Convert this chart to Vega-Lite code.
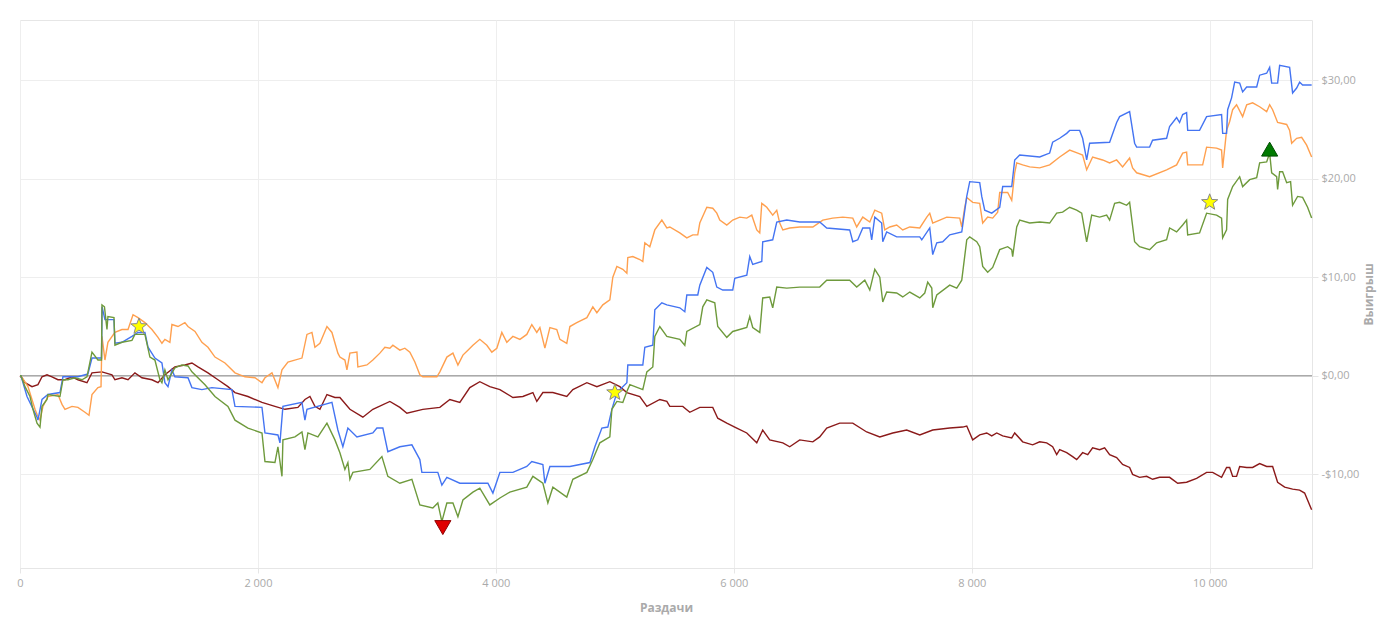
{
  "$schema": "https://vega.github.io/schema/vega-lite/v6.json",
  "width": 1292,
  "height": 548,
  "padding": {"left": 16, "top": 20, "right": 8, "bottom": 8},
  "autosize": {"type": "pad"},
  "config": {
    "locale": {
      "number": {"decimal": ",", "thousands": " ", "grouping": [3], "currency": ["$", ""], "minus": "-"}
    },
    "font": "Open Sans",
    "view": {"stroke": "#e6e6e6"},
    "axis": {
      "gridColor": "#eeeeee",
      "domainColor": "#e6e6e6",
      "tickColor": "#e6e6e6",
      "labelColor": "#aaaaaa",
      "labelFont": "Open Sans",
      "labelFontSize": 11,
      "titleColor": "#aaaaaa",
      "titleFont": "Open Sans",
      "titleFontSize": 12,
      "titleFontWeight": "bold"
    }
  },
  "datasets": {
    "blue": [
      {"hand": 0, "won": 0}, {"hand": 8, "won": 0}, {"hand": 59, "won": -2.1}, {"hand": 143, "won": -4.2}, {"hand": 151, "won": -4.5},
      {"hand": 185, "won": -2.4}, {"hand": 235, "won": -1.9}, {"hand": 336, "won": -1.7}, {"hand": 361, "won": -0.1}, {"hand": 487, "won": -0.1},
      {"hand": 571, "won": 0.2}, {"hand": 605, "won": 1.8}, {"hand": 685, "won": 1.8}, {"hand": 690, "won": 7.0}, {"hand": 714, "won": 5.7},
      {"hand": 790, "won": 5.7}, {"hand": 798, "won": 3.3}, {"hand": 857, "won": 3.4}, {"hand": 941, "won": 4.0}, {"hand": 992, "won": 4.4},
      {"hand": 1050, "won": 4.4}, {"hand": 1076, "won": 2.9}, {"hand": 1134, "won": 1.8}, {"hand": 1193, "won": 1.3}, {"hand": 1218, "won": -0.7},
      {"hand": 1244, "won": -1.1}, {"hand": 1277, "won": 0.6}, {"hand": 1302, "won": -0.1}, {"hand": 1412, "won": -0.2}, {"hand": 1445, "won": -1.2},
      {"hand": 1529, "won": -1.4}, {"hand": 1613, "won": -1.2}, {"hand": 1781, "won": -1.4}, {"hand": 1807, "won": -3.1}, {"hand": 2034, "won": -3.2},
      {"hand": 2059, "won": -5.8}, {"hand": 2168, "won": -6.0}, {"hand": 2185, "won": -6.8}, {"hand": 2210, "won": -3.1}, {"hand": 2370, "won": -2.7},
      {"hand": 2395, "won": -4.5}, {"hand": 2412, "won": -3.4}, {"hand": 2622, "won": -2.7}, {"hand": 2672, "won": -5.5}, {"hand": 2714, "won": -7.2},
      {"hand": 2756, "won": -5.3}, {"hand": 2832, "won": -6.2}, {"hand": 2966, "won": -5.8}, {"hand": 3000, "won": -5.3}, {"hand": 3050, "won": -5.3},
      {"hand": 3092, "won": -7.7}, {"hand": 3193, "won": -7.2}, {"hand": 3294, "won": -7.0}, {"hand": 3361, "won": -8.5}, {"hand": 3378, "won": -9.8},
      {"hand": 3512, "won": -9.8}, {"hand": 3546, "won": -11.1}, {"hand": 3588, "won": -10.3}, {"hand": 3697, "won": -10.9}, {"hand": 3933, "won": -10.9},
      {"hand": 3975, "won": -11.9}, {"hand": 4034, "won": -9.8}, {"hand": 4143, "won": -9.8}, {"hand": 4260, "won": -9.2}, {"hand": 4302, "won": -8.7},
      {"hand": 4395, "won": -9.0}, {"hand": 4412, "won": -10.9}, {"hand": 4454, "won": -9.2}, {"hand": 4622, "won": -9.2}, {"hand": 4790, "won": -8.8},
      {"hand": 4832, "won": -7.2}, {"hand": 4891, "won": -5.3}, {"hand": 4941, "won": -5.2}, {"hand": 4975, "won": -3.4}, {"hand": 5017, "won": -1.7},
      {"hand": 5101, "won": -0.7}, {"hand": 5109, "won": 1.1}, {"hand": 5235, "won": 1.1}, {"hand": 5252, "won": 2.9}, {"hand": 5319, "won": 3.1},
      {"hand": 5336, "won": 6.7}, {"hand": 5395, "won": 7.4}, {"hand": 5437, "won": 7.2}, {"hand": 5546, "won": 6.9}, {"hand": 5588, "won": 6.5},
      {"hand": 5605, "won": 8.2}, {"hand": 5697, "won": 8.2}, {"hand": 5714, "won": 9.2}, {"hand": 5773, "won": 11.0}, {"hand": 5823, "won": 10.5},
      {"hand": 5857, "won": 9.0}, {"hand": 5907, "won": 8.7}, {"hand": 5991, "won": 8.7}, {"hand": 6008, "won": 9.9}, {"hand": 6109, "won": 10.2},
      {"hand": 6134, "won": 12.1}, {"hand": 6159, "won": 11.3}, {"hand": 6235, "won": 11.6}, {"hand": 6243, "won": 13.6}, {"hand": 6327, "won": 13.8},
      {"hand": 6361, "won": 15.6}, {"hand": 6445, "won": 15.8}, {"hand": 6554, "won": 15.6}, {"hand": 6722, "won": 15.6}, {"hand": 6781, "won": 15.0},
      {"hand": 6974, "won": 14.8}, {"hand": 7000, "won": 13.6}, {"hand": 7042, "won": 13.8}, {"hand": 7084, "won": 15.0}, {"hand": 7143, "won": 15.0},
      {"hand": 7159, "won": 13.8}, {"hand": 7185, "won": 16.1}, {"hand": 7243, "won": 15.5}, {"hand": 7252, "won": 13.6}, {"hand": 7285, "won": 14.6},
      {"hand": 7369, "won": 14.1}, {"hand": 7563, "won": 14.1}, {"hand": 7580, "won": 13.8}, {"hand": 7647, "won": 15.0}, {"hand": 7672, "won": 12.3},
      {"hand": 7706, "won": 13.5}, {"hand": 7756, "won": 13.6}, {"hand": 7815, "won": 14.3}, {"hand": 7916, "won": 14.6}, {"hand": 7958, "won": 18.2},
      {"hand": 7983, "won": 19.7}, {"hand": 8067, "won": 19.6}, {"hand": 8084, "won": 18.2}, {"hand": 8109, "won": 16.8}, {"hand": 8168, "won": 16.5},
      {"hand": 8235, "won": 17.1}, {"hand": 8260, "won": 19.2}, {"hand": 8336, "won": 19.2}, {"hand": 8361, "won": 21.9}, {"hand": 8403, "won": 22.4},
      {"hand": 8571, "won": 22.2}, {"hand": 8655, "won": 22.6}, {"hand": 8680, "won": 23.7}, {"hand": 8739, "won": 24.1}, {"hand": 8798, "won": 24.6},
      {"hand": 8823, "won": 24.9}, {"hand": 8907, "won": 24.9}, {"hand": 8932, "won": 24.1}, {"hand": 8966, "won": 21.9}, {"hand": 8991, "won": 23.6},
      {"hand": 9159, "won": 23.7}, {"hand": 9218, "won": 25.7}, {"hand": 9243, "won": 26.3}, {"hand": 9327, "won": 26.8}, {"hand": 9369, "won": 23.6},
      {"hand": 9386, "won": 23.2}, {"hand": 9495, "won": 23.2}, {"hand": 9520, "won": 23.9}, {"hand": 9638, "won": 24.1}, {"hand": 9663, "won": 25.3},
      {"hand": 9722, "won": 26.2}, {"hand": 9747, "won": 25.7}, {"hand": 9773, "won": 26.5}, {"hand": 9806, "won": 26.7}, {"hand": 9815, "won": 24.9},
      {"hand": 9915, "won": 24.9}, {"hand": 9974, "won": 26.3}, {"hand": 10100, "won": 26.5}, {"hand": 10109, "won": 24.6}, {"hand": 10142, "won": 24.6},
      {"hand": 10151, "won": 27.0}, {"hand": 10184, "won": 28.2}, {"hand": 10210, "won": 29.8}, {"hand": 10252, "won": 29.7}, {"hand": 10277, "won": 28.8},
      {"hand": 10311, "won": 29.3}, {"hand": 10395, "won": 29.3}, {"hand": 10420, "won": 30.5}, {"hand": 10479, "won": 30.7}, {"hand": 10504, "won": 31.3},
      {"hand": 10521, "won": 29.7}, {"hand": 10571, "won": 29.7}, {"hand": 10588, "won": 31.5}, {"hand": 10672, "won": 31.3}, {"hand": 10697, "won": 28.7},
      {"hand": 10731, "won": 29.2}, {"hand": 10756, "won": 29.8}, {"hand": 10781, "won": 29.5}, {"hand": 10857, "won": 29.5}
    ],
    "orange": [
      {"hand": 0, "won": 0}, {"hand": 8, "won": 0}, {"hand": 67, "won": -1.1}, {"hand": 126, "won": -3.4}, {"hand": 143, "won": -3.9},
      {"hand": 168, "won": -4.5}, {"hand": 193, "won": -3.1}, {"hand": 235, "won": -2.1}, {"hand": 319, "won": -1.9}, {"hand": 353, "won": -2.9},
      {"hand": 378, "won": -3.4}, {"hand": 437, "won": -3.1}, {"hand": 487, "won": -3.2}, {"hand": 546, "won": -3.7}, {"hand": 580, "won": -4.0},
      {"hand": 605, "won": -1.9}, {"hand": 655, "won": -1.2}, {"hand": 681, "won": -1.1}, {"hand": 689, "won": 4.0}, {"hand": 714, "won": 1.6},
      {"hand": 739, "won": 3.4}, {"hand": 798, "won": 4.4}, {"hand": 857, "won": 4.7}, {"hand": 908, "won": 4.7}, {"hand": 950, "won": 6.2},
      {"hand": 992, "won": 5.9}, {"hand": 1050, "won": 5.4}, {"hand": 1109, "won": 4.7}, {"hand": 1160, "won": 3.9}, {"hand": 1193, "won": 3.3},
      {"hand": 1218, "won": 3.7}, {"hand": 1260, "won": 3.4}, {"hand": 1277, "won": 5.2}, {"hand": 1328, "won": 5.0}, {"hand": 1386, "won": 5.4},
      {"hand": 1412, "won": 5.0}, {"hand": 1471, "won": 4.5}, {"hand": 1529, "won": 3.4}, {"hand": 1580, "won": 2.9}, {"hand": 1639, "won": 1.9},
      {"hand": 1723, "won": 1.3}, {"hand": 1807, "won": 0.3}, {"hand": 1891, "won": -0.1}, {"hand": 1975, "won": -0.2}, {"hand": 2034, "won": -0.7},
      {"hand": 2059, "won": -0.2}, {"hand": 2118, "won": 0.3}, {"hand": 2168, "won": -1.2}, {"hand": 2202, "won": 0.6}, {"hand": 2252, "won": 1.4},
      {"hand": 2370, "won": 1.8}, {"hand": 2412, "won": 4.2}, {"hand": 2454, "won": 4.4}, {"hand": 2479, "won": 2.9}, {"hand": 2521, "won": 3.3},
      {"hand": 2580, "won": 5.0}, {"hand": 2622, "won": 4.4}, {"hand": 2672, "won": 2.3}, {"hand": 2689, "won": 1.9}, {"hand": 2731, "won": 1.6},
      {"hand": 2748, "won": 0.6}, {"hand": 2773, "won": 2.3}, {"hand": 2832, "won": 2.4}, {"hand": 2840, "won": 0.9}, {"hand": 2916, "won": 1.1},
      {"hand": 2966, "won": 1.6}, {"hand": 3025, "won": 2.3}, {"hand": 3067, "won": 2.9}, {"hand": 3109, "won": 2.8}, {"hand": 3134, "won": 3.1},
      {"hand": 3193, "won": 2.6}, {"hand": 3235, "won": 2.8}, {"hand": 3277, "won": 2.4}, {"hand": 3319, "won": 1.4}, {"hand": 3361, "won": 0.1},
      {"hand": 3386, "won": -0.1}, {"hand": 3504, "won": -0.1}, {"hand": 3529, "won": 0.4}, {"hand": 3588, "won": 1.9}, {"hand": 3639, "won": 2.3},
      {"hand": 3681, "won": 1.1}, {"hand": 3723, "won": 2.1}, {"hand": 3765, "won": 2.6}, {"hand": 3807, "won": 3.1}, {"hand": 3865, "won": 3.7},
      {"hand": 3924, "won": 3.1}, {"hand": 3966, "won": 2.4}, {"hand": 4008, "won": 2.8}, {"hand": 4050, "won": 4.4}, {"hand": 4092, "won": 3.4},
      {"hand": 4143, "won": 4.0}, {"hand": 4202, "won": 3.7}, {"hand": 4260, "won": 4.2}, {"hand": 4302, "won": 5.2}, {"hand": 4344, "won": 4.4},
      {"hand": 4370, "won": 4.9}, {"hand": 4412, "won": 2.8}, {"hand": 4454, "won": 4.9}, {"hand": 4512, "won": 4.7}, {"hand": 4538, "won": 3.7},
      {"hand": 4596, "won": 3.3}, {"hand": 4622, "won": 5.0}, {"hand": 4680, "won": 5.4}, {"hand": 4765, "won": 5.9}, {"hand": 4815, "won": 7.0},
      {"hand": 4849, "won": 6.4}, {"hand": 4899, "won": 7.2}, {"hand": 4958, "won": 7.7}, {"hand": 4983, "won": 10.0}, {"hand": 5017, "won": 11.1},
      {"hand": 5067, "won": 10.8}, {"hand": 5101, "won": 10.4}, {"hand": 5109, "won": 12.0}, {"hand": 5151, "won": 12.1}, {"hand": 5210, "won": 11.8},
      {"hand": 5235, "won": 11.6}, {"hand": 5252, "won": 13.5}, {"hand": 5294, "won": 13.1}, {"hand": 5336, "won": 14.8}, {"hand": 5395, "won": 15.8},
      {"hand": 5437, "won": 15.0}, {"hand": 5462, "won": 15.1}, {"hand": 5546, "won": 14.5}, {"hand": 5605, "won": 14.0}, {"hand": 5655, "won": 14.3},
      {"hand": 5697, "won": 14.3}, {"hand": 5714, "won": 15.5}, {"hand": 5773, "won": 17.1}, {"hand": 5823, "won": 17.0}, {"hand": 5857, "won": 16.5},
      {"hand": 5882, "won": 15.8}, {"hand": 5941, "won": 15.3}, {"hand": 5991, "won": 15.8}, {"hand": 6050, "won": 16.1}, {"hand": 6109, "won": 16.0},
      {"hand": 6151, "won": 16.3}, {"hand": 6193, "won": 14.8}, {"hand": 6218, "won": 14.5}, {"hand": 6235, "won": 17.5}, {"hand": 6277, "won": 17.1},
      {"hand": 6327, "won": 16.3}, {"hand": 6361, "won": 16.8}, {"hand": 6386, "won": 15.5}, {"hand": 6412, "won": 14.8}, {"hand": 6470, "won": 15.0},
      {"hand": 6554, "won": 15.1}, {"hand": 6664, "won": 15.1}, {"hand": 6748, "won": 15.8}, {"hand": 6831, "won": 16.0}, {"hand": 6916, "won": 16.1},
      {"hand": 7000, "won": 16.0}, {"hand": 7033, "won": 15.1}, {"hand": 7084, "won": 16.1}, {"hand": 7143, "won": 15.6}, {"hand": 7185, "won": 16.8},
      {"hand": 7243, "won": 16.5}, {"hand": 7269, "won": 14.8}, {"hand": 7311, "won": 15.1}, {"hand": 7369, "won": 15.3}, {"hand": 7420, "won": 14.8},
      {"hand": 7479, "won": 15.1}, {"hand": 7563, "won": 15.0}, {"hand": 7622, "won": 16.1}, {"hand": 7647, "won": 16.5}, {"hand": 7672, "won": 15.5},
      {"hand": 7731, "won": 15.8}, {"hand": 7790, "won": 16.1}, {"hand": 7899, "won": 16.0}, {"hand": 7916, "won": 15.1}, {"hand": 7941, "won": 17.1},
      {"hand": 7958, "won": 18.1}, {"hand": 8008, "won": 17.6}, {"hand": 8067, "won": 17.5}, {"hand": 8092, "won": 15.5}, {"hand": 8134, "won": 16.1},
      {"hand": 8176, "won": 16.0}, {"hand": 8218, "won": 16.6}, {"hand": 8235, "won": 18.6}, {"hand": 8302, "won": 18.6}, {"hand": 8336, "won": 17.8},
      {"hand": 8361, "won": 20.6}, {"hand": 8378, "won": 21.6}, {"hand": 8428, "won": 21.4}, {"hand": 8487, "won": 21.2}, {"hand": 8571, "won": 21.1},
      {"hand": 8655, "won": 21.4}, {"hand": 8739, "won": 22.2}, {"hand": 8823, "won": 22.9}, {"hand": 8891, "won": 22.6}, {"hand": 8932, "won": 22.4},
      {"hand": 8966, "won": 20.9}, {"hand": 9016, "won": 22.2}, {"hand": 9100, "won": 21.9}, {"hand": 9159, "won": 21.6}, {"hand": 9218, "won": 21.9},
      {"hand": 9268, "won": 21.2}, {"hand": 9327, "won": 22.1}, {"hand": 9352, "won": 21.1}, {"hand": 9386, "won": 20.6}, {"hand": 9495, "won": 20.2},
      {"hand": 9638, "won": 20.9}, {"hand": 9722, "won": 21.4}, {"hand": 9773, "won": 22.6}, {"hand": 9806, "won": 22.7}, {"hand": 9815, "won": 21.4},
      {"hand": 9941, "won": 21.4}, {"hand": 9974, "won": 23.2}, {"hand": 10058, "won": 23.1}, {"hand": 10100, "won": 22.9}, {"hand": 10109, "won": 21.1},
      {"hand": 10142, "won": 24.9}, {"hand": 10168, "won": 25.8}, {"hand": 10193, "won": 27.0}, {"hand": 10226, "won": 27.5}, {"hand": 10277, "won": 26.3},
      {"hand": 10311, "won": 27.5}, {"hand": 10361, "won": 27.7}, {"hand": 10420, "won": 27.3}, {"hand": 10479, "won": 26.8}, {"hand": 10504, "won": 27.5},
      {"hand": 10529, "won": 27.0}, {"hand": 10571, "won": 25.7}, {"hand": 10647, "won": 25.5}, {"hand": 10672, "won": 24.9}, {"hand": 10689, "won": 23.6},
      {"hand": 10731, "won": 24.1}, {"hand": 10773, "won": 24.2}, {"hand": 10815, "won": 23.4}, {"hand": 10857, "won": 22.2}
    ],
    "red": [
      {"hand": 0, "won": 0}, {"hand": 8, "won": -0.1}, {"hand": 42, "won": -0.7}, {"hand": 101, "won": -1.1}, {"hand": 151, "won": -0.9},
      {"hand": 185, "won": -0.1}, {"hand": 227, "won": 0.1}, {"hand": 269, "won": -0.1}, {"hand": 319, "won": -0.4}, {"hand": 378, "won": -0.4},
      {"hand": 437, "won": -0.1}, {"hand": 487, "won": -0.4}, {"hand": 563, "won": -0.7}, {"hand": 605, "won": 0.3}, {"hand": 689, "won": 0.4},
      {"hand": 773, "won": 0.1}, {"hand": 798, "won": -0.4}, {"hand": 857, "won": -0.2}, {"hand": 908, "won": -0.4}, {"hand": 966, "won": 0.3},
      {"hand": 1025, "won": -0.2}, {"hand": 1109, "won": -0.4}, {"hand": 1160, "won": -0.7}, {"hand": 1218, "won": 0.1}, {"hand": 1302, "won": 0.9},
      {"hand": 1386, "won": 1.1}, {"hand": 1445, "won": 1.3}, {"hand": 1496, "won": 0.9}, {"hand": 1580, "won": 0.3}, {"hand": 1664, "won": -0.4},
      {"hand": 1748, "won": -1.1}, {"hand": 1807, "won": -1.7}, {"hand": 1916, "won": -2.1}, {"hand": 2034, "won": -2.7}, {"hand": 2143, "won": -3.1},
      {"hand": 2227, "won": -3.4}, {"hand": 2336, "won": -3.2}, {"hand": 2395, "won": -2.4}, {"hand": 2437, "won": -2.1}, {"hand": 2479, "won": -3.1},
      {"hand": 2521, "won": -3.4}, {"hand": 2580, "won": -1.9}, {"hand": 2647, "won": -2.2}, {"hand": 2689, "won": -2.2}, {"hand": 2773, "won": -3.4},
      {"hand": 2882, "won": -4.2}, {"hand": 2966, "won": -3.4}, {"hand": 3109, "won": -2.6}, {"hand": 3193, "won": -3.2}, {"hand": 3252, "won": -3.8},
      {"hand": 3386, "won": -3.4}, {"hand": 3529, "won": -3.2}, {"hand": 3613, "won": -2.4}, {"hand": 3697, "won": -2.7}, {"hand": 3781, "won": -1.2},
      {"hand": 3865, "won": -0.6}, {"hand": 3949, "won": -1.1}, {"hand": 4034, "won": -1.4}, {"hand": 4143, "won": -2.2}, {"hand": 4227, "won": -2.1},
      {"hand": 4311, "won": -1.7}, {"hand": 4344, "won": -2.6}, {"hand": 4395, "won": -1.7}, {"hand": 4479, "won": -1.7}, {"hand": 4596, "won": -2.1},
      {"hand": 4647, "won": -1.4}, {"hand": 4765, "won": -0.7}, {"hand": 4849, "won": -1.1}, {"hand": 4958, "won": -0.6}, {"hand": 5042, "won": -1.1},
      {"hand": 5101, "won": -1.7}, {"hand": 5210, "won": -2.1}, {"hand": 5269, "won": -3.1}, {"hand": 5378, "won": -2.4}, {"hand": 5437, "won": -2.6},
      {"hand": 5462, "won": -3.1}, {"hand": 5571, "won": -3.1}, {"hand": 5630, "won": -3.7}, {"hand": 5714, "won": -3.2}, {"hand": 5823, "won": -3.2},
      {"hand": 5865, "won": -4.3}, {"hand": 5941, "won": -4.8}, {"hand": 6025, "won": -5.3}, {"hand": 6109, "won": -5.8}, {"hand": 6193, "won": -6.8},
      {"hand": 6243, "won": -5.5}, {"hand": 6302, "won": -6.5}, {"hand": 6412, "won": -6.8}, {"hand": 6470, "won": -7.2}, {"hand": 6554, "won": -6.5},
      {"hand": 6664, "won": -6.7}, {"hand": 6722, "won": -6.2}, {"hand": 6781, "won": -5.3}, {"hand": 6890, "won": -4.8}, {"hand": 7000, "won": -4.8},
      {"hand": 7117, "won": -5.7}, {"hand": 7227, "won": -6.2}, {"hand": 7336, "won": -5.8}, {"hand": 7453, "won": -5.5}, {"hand": 7563, "won": -6.0},
      {"hand": 7672, "won": -5.5}, {"hand": 7815, "won": -5.3}, {"hand": 7924, "won": -5.2}, {"hand": 7958, "won": -5.1}, {"hand": 8008, "won": -6.5},
      {"hand": 8067, "won": -6.0}, {"hand": 8126, "won": -5.8}, {"hand": 8168, "won": -6.1}, {"hand": 8210, "won": -5.8}, {"hand": 8260, "won": -6.1},
      {"hand": 8336, "won": -6.3}, {"hand": 8361, "won": -5.8}, {"hand": 8428, "won": -6.7}, {"hand": 8512, "won": -7.0}, {"hand": 8571, "won": -6.7},
      {"hand": 8630, "won": -6.8}, {"hand": 8680, "won": -7.2}, {"hand": 8714, "won": -8.0}, {"hand": 8739, "won": -7.5}, {"hand": 8798, "won": -7.8},
      {"hand": 8848, "won": -8.2}, {"hand": 8882, "won": -8.5}, {"hand": 8932, "won": -7.8}, {"hand": 8975, "won": -8.0}, {"hand": 9016, "won": -7.3},
      {"hand": 9075, "won": -7.5}, {"hand": 9117, "won": -7.3}, {"hand": 9159, "won": -8.0}, {"hand": 9218, "won": -8.3}, {"hand": 9268, "won": -9.0},
      {"hand": 9327, "won": -9.3}, {"hand": 9352, "won": -10.0}, {"hand": 9411, "won": -10.3}, {"hand": 9470, "won": -10.2}, {"hand": 9520, "won": -10.5},
      {"hand": 9579, "won": -10.3}, {"hand": 9663, "won": -10.3}, {"hand": 9731, "won": -10.9}, {"hand": 9806, "won": -10.8}, {"hand": 9890, "won": -10.4},
      {"hand": 9974, "won": -9.8}, {"hand": 10025, "won": -9.8}, {"hand": 10100, "won": -10.3}, {"hand": 10142, "won": -9.3}, {"hand": 10168, "won": -9.3},
      {"hand": 10193, "won": -10.2}, {"hand": 10226, "won": -10.2}, {"hand": 10252, "won": -9.2}, {"hand": 10311, "won": -9.3}, {"hand": 10361, "won": -9.3},
      {"hand": 10420, "won": -8.9}, {"hand": 10479, "won": -9.2}, {"hand": 10529, "won": -9.2}, {"hand": 10571, "won": -10.8}, {"hand": 10630, "won": -11.3},
      {"hand": 10697, "won": -11.5}, {"hand": 10756, "won": -11.6}, {"hand": 10798, "won": -11.9}, {"hand": 10857, "won": -13.6}
    ],
    "green": [
      {"hand": 0, "won": 0}, {"hand": 8, "won": 0}, {"hand": 42, "won": -1.1}, {"hand": 84, "won": -2.1}, {"hand": 109, "won": -3.4},
      {"hand": 143, "won": -4.8}, {"hand": 168, "won": -5.2}, {"hand": 185, "won": -3.1}, {"hand": 227, "won": -2.4}, {"hand": 235, "won": -1.9},
      {"hand": 336, "won": -2.1}, {"hand": 361, "won": -0.4}, {"hand": 403, "won": -0.4}, {"hand": 462, "won": -0.2}, {"hand": 521, "won": -0.4},
      {"hand": 563, "won": -0.1}, {"hand": 605, "won": 2.4}, {"hand": 655, "won": 1.6}, {"hand": 685, "won": 1.6}, {"hand": 689, "won": 7.2},
      {"hand": 710, "won": 7.0}, {"hand": 731, "won": 4.7}, {"hand": 739, "won": 6.0}, {"hand": 790, "won": 5.9}, {"hand": 798, "won": 3.1},
      {"hand": 857, "won": 3.4}, {"hand": 941, "won": 3.6}, {"hand": 966, "won": 4.2}, {"hand": 1050, "won": 4.2}, {"hand": 1092, "won": 1.9},
      {"hand": 1134, "won": 1.6}, {"hand": 1176, "won": -0.4}, {"hand": 1193, "won": -0.7}, {"hand": 1218, "won": 0.6}, {"hand": 1244, "won": -0.4},
      {"hand": 1302, "won": 0.8}, {"hand": 1361, "won": 1.1}, {"hand": 1412, "won": 1.0}, {"hand": 1445, "won": 0.4}, {"hand": 1555, "won": -0.9},
      {"hand": 1639, "won": -2.1}, {"hand": 1748, "won": -3.1}, {"hand": 1807, "won": -4.5}, {"hand": 1916, "won": -5.3}, {"hand": 2034, "won": -5.8},
      {"hand": 2059, "won": -8.7}, {"hand": 2143, "won": -8.8}, {"hand": 2168, "won": -7.2}, {"hand": 2202, "won": -10.2}, {"hand": 2210, "won": -6.5},
      {"hand": 2311, "won": -6.2}, {"hand": 2370, "won": -5.7}, {"hand": 2395, "won": -7.5}, {"hand": 2420, "won": -5.8}, {"hand": 2504, "won": -6.2},
      {"hand": 2580, "won": -4.8}, {"hand": 2647, "won": -6.5}, {"hand": 2689, "won": -7.8}, {"hand": 2731, "won": -9.5}, {"hand": 2756, "won": -8.8},
      {"hand": 2773, "won": -10.5}, {"hand": 2798, "won": -9.8}, {"hand": 2941, "won": -9.5}, {"hand": 3042, "won": -8.2}, {"hand": 3092, "won": -10.2},
      {"hand": 3193, "won": -10.9}, {"hand": 3294, "won": -10.5}, {"hand": 3361, "won": -13.1}, {"hand": 3470, "won": -13.4}, {"hand": 3512, "won": -12.9},
      {"hand": 3546, "won": -14.8}, {"hand": 3588, "won": -12.9}, {"hand": 3639, "won": -12.9}, {"hand": 3681, "won": -14.3}, {"hand": 3723, "won": -12.6},
      {"hand": 3807, "won": -11.8}, {"hand": 3865, "won": -11.4}, {"hand": 3949, "won": -13.1}, {"hand": 4034, "won": -12.4}, {"hand": 4117, "won": -11.8},
      {"hand": 4260, "won": -11.3}, {"hand": 4311, "won": -10.2}, {"hand": 4395, "won": -10.9}, {"hand": 4437, "won": -12.9}, {"hand": 4479, "won": -11.3},
      {"hand": 4596, "won": -12.3}, {"hand": 4647, "won": -10.5}, {"hand": 4765, "won": -9.8}, {"hand": 4815, "won": -8.5}, {"hand": 4874, "won": -6.8},
      {"hand": 4958, "won": -6.2}, {"hand": 4975, "won": -3.4}, {"hand": 5017, "won": -2.6}, {"hand": 5067, "won": -2.7}, {"hand": 5101, "won": -1.6},
      {"hand": 5126, "won": -0.9}, {"hand": 5235, "won": -1.4}, {"hand": 5269, "won": 0.4}, {"hand": 5319, "won": 0.9}, {"hand": 5336, "won": 4.0},
      {"hand": 5378, "won": 5.0}, {"hand": 5437, "won": 4.0}, {"hand": 5546, "won": 3.7}, {"hand": 5588, "won": 3.1}, {"hand": 5605, "won": 4.5},
      {"hand": 5714, "won": 5.2}, {"hand": 5739, "won": 7.0}, {"hand": 5773, "won": 7.7}, {"hand": 5840, "won": 7.4}, {"hand": 5865, "won": 5.0},
      {"hand": 5941, "won": 3.9}, {"hand": 5991, "won": 4.5}, {"hand": 6109, "won": 4.9}, {"hand": 6134, "won": 6.0}, {"hand": 6159, "won": 4.9},
      {"hand": 6218, "won": 4.4}, {"hand": 6243, "won": 7.9}, {"hand": 6302, "won": 8.0}, {"hand": 6327, "won": 6.9}, {"hand": 6361, "won": 9.0},
      {"hand": 6445, "won": 8.9}, {"hand": 6554, "won": 9.0}, {"hand": 6722, "won": 9.0}, {"hand": 6781, "won": 9.7}, {"hand": 6974, "won": 9.7},
      {"hand": 7033, "won": 9.0}, {"hand": 7101, "won": 9.7}, {"hand": 7143, "won": 8.7}, {"hand": 7185, "won": 10.8}, {"hand": 7227, "won": 10.0},
      {"hand": 7252, "won": 7.5}, {"hand": 7285, "won": 8.5}, {"hand": 7369, "won": 8.4}, {"hand": 7420, "won": 8.0}, {"hand": 7479, "won": 8.5},
      {"hand": 7563, "won": 7.9}, {"hand": 7605, "won": 8.4}, {"hand": 7630, "won": 9.5}, {"hand": 7664, "won": 8.9}, {"hand": 7672, "won": 6.9},
      {"hand": 7706, "won": 8.2}, {"hand": 7815, "won": 9.2}, {"hand": 7874, "won": 8.9}, {"hand": 7916, "won": 9.7}, {"hand": 7958, "won": 13.8},
      {"hand": 7983, "won": 14.1}, {"hand": 8042, "won": 13.6}, {"hand": 8067, "won": 13.1}, {"hand": 8092, "won": 11.1}, {"hand": 8134, "won": 10.5},
      {"hand": 8176, "won": 11.0}, {"hand": 8235, "won": 12.8}, {"hand": 8302, "won": 13.1}, {"hand": 8336, "won": 12.8}, {"hand": 8344, "won": 12.1},
      {"hand": 8378, "won": 15.1}, {"hand": 8403, "won": 15.8}, {"hand": 8487, "won": 15.5}, {"hand": 8571, "won": 15.6}, {"hand": 8655, "won": 15.5},
      {"hand": 8714, "won": 16.5}, {"hand": 8764, "won": 16.6}, {"hand": 8823, "won": 17.1}, {"hand": 8882, "won": 16.8}, {"hand": 8924, "won": 16.5},
      {"hand": 8966, "won": 13.6}, {"hand": 9008, "won": 16.3}, {"hand": 9075, "won": 16.1}, {"hand": 9134, "won": 16.3}, {"hand": 9159, "won": 15.8},
      {"hand": 9201, "won": 17.5}, {"hand": 9243, "won": 17.6}, {"hand": 9302, "won": 17.3}, {"hand": 9327, "won": 17.6}, {"hand": 9369, "won": 13.6},
      {"hand": 9411, "won": 13.1}, {"hand": 9495, "won": 12.8}, {"hand": 9554, "won": 13.5}, {"hand": 9638, "won": 13.8}, {"hand": 9663, "won": 15.0},
      {"hand": 9722, "won": 14.6}, {"hand": 9773, "won": 15.3}, {"hand": 9806, "won": 15.8}, {"hand": 9815, "won": 14.3}, {"hand": 9915, "won": 14.5},
      {"hand": 9974, "won": 16.5}, {"hand": 10058, "won": 16.3}, {"hand": 10100, "won": 16.0}, {"hand": 10109, "won": 14.0}, {"hand": 10142, "won": 14.8},
      {"hand": 10151, "won": 17.9}, {"hand": 10193, "won": 19.2}, {"hand": 10252, "won": 20.2}, {"hand": 10277, "won": 19.2}, {"hand": 10336, "won": 19.9},
      {"hand": 10395, "won": 20.1}, {"hand": 10420, "won": 21.6}, {"hand": 10479, "won": 21.7}, {"hand": 10504, "won": 22.6}, {"hand": 10521, "won": 20.6},
      {"hand": 10563, "won": 20.2}, {"hand": 10571, "won": 18.9}, {"hand": 10588, "won": 20.7}, {"hand": 10613, "won": 20.7}, {"hand": 10647, "won": 19.6},
      {"hand": 10680, "won": 19.7}, {"hand": 10697, "won": 17.3}, {"hand": 10739, "won": 18.2}, {"hand": 10781, "won": 18.1}, {"hand": 10823, "won": 17.1},
      {"hand": 10857, "won": 16.0}
    ],
    "zero": [{"hand": 0, "won": 0}, {"hand": 10860, "won": 0}],
    "stars": [{"hand": 1000, "won": 5.0}, {"hand": 5000, "won": -1.7}, {"hand": 10000, "won": 17.6}],
    "low": [{"hand": 3554, "won": -15.4}],
    "high": [{"hand": 10504, "won": 23.0}]
  },
  "encoding": {
    "x": {
      "field": "hand",
      "type": "quantitative",
      "title": "Раздачи",
      "scale": {"domain": [0, 10860], "nice": false, "zero": false},
      "axis": {
        "values": [0, 2000, 4000, 6000, 8000, 10000],
        "format": ",d",
        "grid": true,
        "domain": true,
        "ticks": true,
        "tickSize": 5,
        "labelPadding": 4,
        "labelFlush": false,
        "titlePadding": 14
      }
    },
    "y": {
      "field": "won",
      "type": "quantitative",
      "title": "Выигрыш",
      "scale": {"domain": [-19.5, 36.1], "nice": false, "zero": false},
      "axis": {
        "orient": "right",
        "values": [-10, 0, 10, 20, 30],
        "format": "$,.2f",
        "grid": true,
        "domain": false,
        "ticks": true,
        "tickSize": 6,
        "labelPadding": 3,
        "titleAngle": 270,
        "titlePadding": 17
      }
    }
  },
  "layer": [
    {"data": {"name": "zero"}, "mark": {"type": "line", "color": "#aaaaaa", "strokeWidth": 1.5}},
    {"data": {"name": "red"}, "mark": {"type": "line", "color": "#8b1a1a", "strokeWidth": 1.4}},
    {"data": {"name": "orange"}, "mark": {"type": "line", "color": "#ffa04f", "strokeWidth": 1.4}},
    {"data": {"name": "blue"}, "mark": {"type": "line", "color": "#4474f2", "strokeWidth": 1.4}},
    {"data": {"name": "green"}, "mark": {"type": "line", "color": "#6e9a3c", "strokeWidth": 1.4}},
    {"data": {"name": "stars"}, "mark": {"type": "point", "shape": "M0,-1L0.247,-0.34L0.951,-0.309L0.4,0.13L0.588,0.809L0,0.42L-0.588,0.809L-0.4,0.13L-0.951,-0.309L-0.247,-0.34Z", "filled": true, "fill": "#ffff00", "stroke": "#888888", "strokeWidth": 1, "size": 290, "opacity": 1}},
    {"data": {"name": "low"}, "mark": {"type": "point", "shape": "triangle-down", "filled": true, "fill": "#e00000", "stroke": "#900000", "strokeWidth": 1, "size": 260, "opacity": 1}},
    {"data": {"name": "high"}, "mark": {"type": "point", "shape": "triangle-up", "filled": true, "fill": "#007a00", "stroke": "#004d00", "strokeWidth": 1, "size": 260, "opacity": 1}}
  ]
}
